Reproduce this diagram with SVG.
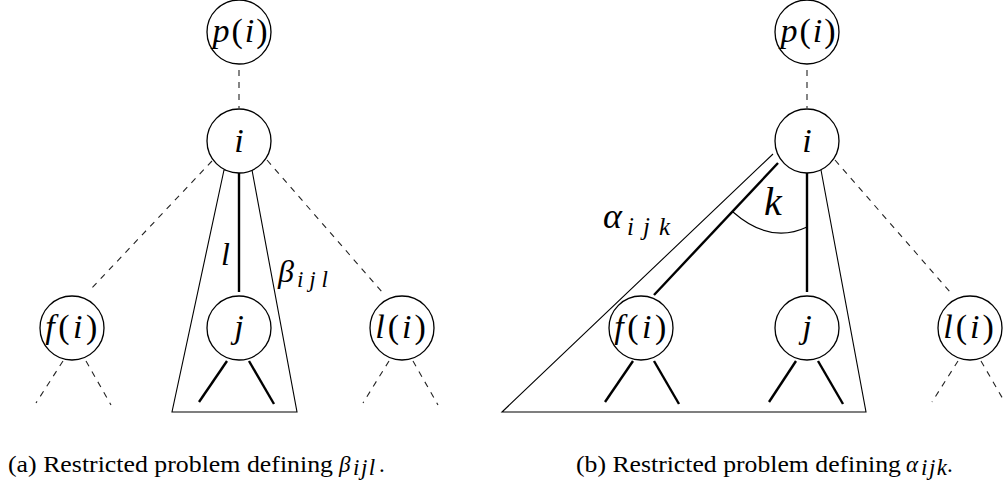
<svg xmlns="http://www.w3.org/2000/svg" width="1004" height="489" viewBox="0 0 1004 489">
<style>
.node circle{fill:#fff;stroke:#000;stroke-width:1.3}
.lbl{font-family:"Liberation Serif","Times New Roman",Times,serif;font-size:34px;text-anchor:middle;fill:#000}
.it{font-style:italic}
.up{font-style:normal}
.dash{stroke:#222;stroke-width:1.1;stroke-dasharray:6 6;fill:none}
.thick{stroke:#000;stroke-width:2.4;fill:none}
.thin{stroke:#000;stroke-width:1.1;fill:none}
.math{font-family:"Liberation Serif","Times New Roman",Times,serif;font-style:italic;fill:#000}
.cap{font-family:"Liberation Serif","Times New Roman",Times,serif;font-size:23px;fill:#000}
</style>
<rect width="1004" height="489" fill="#fff"/>
<g id="connectors">
  <line class="dash" x1="239" y1="70" x2="239" y2="108"/>
  <line class="dash" x1="212" y1="161" x2="90" y2="290"/>
  <line class="dash" x1="267" y1="160" x2="382" y2="292"/>
  <line class="thick" x1="239" y1="173" x2="239" y2="292"/>
  <line class="dash" x1="63" y1="361" x2="36" y2="403"/>
  <line class="dash" x1="86" y1="361" x2="111" y2="405"/>
  <line class="thick" x1="227" y1="361" x2="199" y2="402"/>
  <line class="thick" x1="249" y1="361" x2="274" y2="404"/>
  <line class="dash" x1="389" y1="361" x2="363" y2="403"/>
  <line class="dash" x1="413" y1="361" x2="438" y2="405"/>
  <line class="dash" x1="807" y1="70" x2="807" y2="108"/>
  <line class="thick" x1="778" y1="163" x2="654" y2="295"/>
  <line class="thick" x1="807" y1="173" x2="807" y2="292"/>
  <line class="dash" x1="835" y1="160" x2="950" y2="292"/>
  <line class="thick" x1="633" y1="361" x2="605" y2="402"/>
  <line class="thick" x1="654" y1="361" x2="679" y2="404"/>
  <line class="thick" x1="796" y1="361" x2="769" y2="402"/>
  <line class="thick" x1="818" y1="361" x2="843" y2="404"/>
  <line class="dash" x1="958" y1="361" x2="932" y2="402"/>
  <line class="dash" x1="981" y1="361" x2="1007" y2="406"/>
</g>
<g id="regions">
  <polygon id="region-beta" class="thin" points="224,170 252,170 297,412 172,412"/>
  <polyline id="region-alpha" class="thin" points="773,154 502,412 866,412 821,170"/>
  <path id="angle-k" class="thin" d="M733,212 Q770,244.5 807,227"/>
</g>
<g id="node-a-p" class="node">
  <circle cx="239" cy="32" r="32"/>
  <text class="lbl" x="241" y="42" letter-spacing="2"><tspan class="it">p</tspan><tspan class="up">(</tspan><tspan class="it">i</tspan><tspan class="up">)</tspan></text>
</g>
<g id="node-a-i" class="node">
  <circle cx="239" cy="141" r="32"/>
  <text class="lbl it" x="239" y="152">i</text>
</g>
<g id="node-a-f" class="node">
  <circle cx="72" cy="328" r="32"/>
  <text class="lbl" x="73" y="338" letter-spacing="3.5"><tspan class="it">f</tspan><tspan class="up">(</tspan><tspan class="it">i</tspan><tspan class="up">)</tspan></text>
</g>
<g id="node-a-j" class="node">
  <circle cx="239" cy="328" r="32"/>
  <text class="lbl it" x="239" y="338">j</text>
</g>
<g id="node-a-l" class="node">
  <circle cx="402" cy="328" r="32"/>
  <text class="lbl" x="402" y="338" letter-spacing="3"><tspan class="it">l</tspan><tspan class="up">(</tspan><tspan class="it">i</tspan><tspan class="up">)</tspan></text>
</g>
<g id="node-b-p" class="node">
  <circle cx="807" cy="32" r="32"/>
  <text class="lbl" x="809" y="42" letter-spacing="2"><tspan class="it">p</tspan><tspan class="up">(</tspan><tspan class="it">i</tspan><tspan class="up">)</tspan></text>
</g>
<g id="node-b-i" class="node">
  <circle cx="807" cy="141" r="32"/>
  <text class="lbl it" x="807" y="152">i</text>
</g>
<g id="node-b-f" class="node">
  <circle cx="641" cy="328" r="32"/>
  <text class="lbl" x="642" y="338" letter-spacing="3.5"><tspan class="it">f</tspan><tspan class="up">(</tspan><tspan class="it">i</tspan><tspan class="up">)</tspan></text>
</g>
<g id="node-b-j" class="node">
  <circle cx="807" cy="328" r="32"/>
  <text class="lbl it" x="807" y="338">j</text>
</g>
<g id="node-b-l" class="node">
  <circle cx="970" cy="328" r="32"/>
  <text class="lbl" x="970" y="338" letter-spacing="3"><tspan class="it">l</tspan><tspan class="up">(</tspan><tspan class="it">i</tspan><tspan class="up">)</tspan></text>
</g>
<g id="labels">
  <text class="math" x="221" y="265" font-size="32">l</text>
  <text class="math" x="278" y="282" font-size="32">β</text>
  <text class="math" x="297" y="287" font-size="23" textLength="31" lengthAdjust="spacing">ijl</text>
  <text class="math" x="603" y="228" font-size="36">α</text>
  <text class="math" x="627" y="235" font-size="25" textLength="43" lengthAdjust="spacing">ijk</text>
  <text class="math" x="764" y="215" font-size="40">k</text>
</g>
<g id="captions">
  <text class="cap" x="8" y="472" textLength="325" lengthAdjust="spacingAndGlyphs">(a) Restricted problem defining</text>
  <text class="cap it" x="339" y="472">β</text>
  <text class="cap it" x="353" y="475" font-size="17" letter-spacing="1.5">ijl</text>
  <text class="cap" x="379" y="472">.</text>
  <text class="cap" x="576" y="472" textLength="325" lengthAdjust="spacingAndGlyphs">(b) Restricted problem defining</text>
  <text class="cap it" x="906" y="472">α</text>
  <text class="cap it" x="921" y="475" font-size="17" letter-spacing="1.5">ijk</text>
  <text class="cap" x="947" y="472">.</text>
</g>
</svg>
